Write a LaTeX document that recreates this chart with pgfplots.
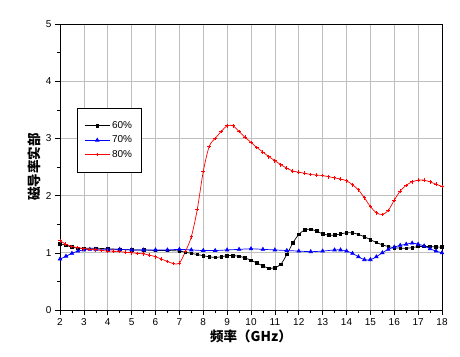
\documentclass[border=0pt]{standalone}
\usepackage{fontspec}
\setmainfont{Liberation Sans}
\newfontfamily\cjk{Noto Sans CJK SC}
\usepackage{pgfplots}
\pgfplotsset{compat=1.18}
\usepackage{pgfplotstable}
\pgfplotstableread{
x y
2.00 1.16
2.25 1.13
2.50 1.10
2.75 1.08
3.00 1.08
3.50 1.08
4.00 1.07
4.50 1.06
5.00 1.05
5.50 1.05
6.00 1.04
6.50 1.04
7.00 1.03
7.25 1.01
7.50 0.99
7.75 0.97
8.00 0.95
8.25 0.93
8.50 0.92
8.75 0.93
9.00 0.95
9.25 0.95
9.50 0.94
9.75 0.91
10.00 0.87
10.25 0.82
10.50 0.77
10.75 0.73
11.00 0.74
11.25 0.80
11.50 0.97
11.75 1.17
12.00 1.32
12.25 1.40
12.50 1.41
12.75 1.38
13.00 1.33
13.25 1.31
13.50 1.31
13.75 1.33
14.00 1.35
14.25 1.35
14.50 1.32
14.75 1.28
15.00 1.23
15.25 1.18
15.50 1.14
15.75 1.11
16.00 1.09
16.25 1.08
16.50 1.08
16.75 1.09
17.00 1.11
17.25 1.11
17.50 1.11
17.75 1.10
18.00 1.10
}\sixty
\pgfplotstableread{
x y
2.00 0.89
2.25 0.94
2.50 0.99
2.75 1.03
3.00 1.05
3.25 1.06
3.50 1.06
4.00 1.06
4.50 1.06
5.00 1.05
5.50 1.05
6.00 1.05
6.50 1.05
7.00 1.06
7.50 1.05
8.00 1.04
8.50 1.04
9.00 1.05
9.50 1.06
10.00 1.07
10.50 1.06
11.00 1.05
11.50 1.04
12.00 1.03
12.50 1.02
13.00 1.03
13.50 1.05
13.75 1.05
14.00 1.03
14.25 0.99
14.50 0.93
14.75 0.88
15.00 0.88
15.25 0.93
15.50 1.00
15.75 1.06
16.00 1.10
16.25 1.13
16.50 1.15
16.75 1.17
17.00 1.15
17.25 1.12
17.50 1.07
17.75 1.03
18.00 1.00
}\seventy
\pgfplotstableread{
x y
2.00 1.21
2.25 1.15
2.50 1.11
2.75 1.09
3.00 1.07
3.25 1.06
3.50 1.05
3.75 1.04
4.00 1.03
4.25 1.03
4.50 1.02
4.75 1.01
5.00 1.00
5.25 0.99
5.50 0.98
5.75 0.96
6.00 0.93
6.25 0.89
6.50 0.85
6.75 0.81
7.00 0.82
7.25 1.02
7.50 1.28
7.75 1.76
8.00 2.42
8.25 2.86
8.50 3.00
8.75 3.12
9.00 3.22
9.25 3.22
9.50 3.12
9.75 3.02
10.00 2.93
10.25 2.84
10.50 2.76
10.75 2.68
11.00 2.61
11.25 2.54
11.50 2.48
11.75 2.43
12.00 2.41
12.25 2.39
12.50 2.37
12.75 2.36
13.00 2.35
13.25 2.33
13.50 2.31
13.75 2.29
14.00 2.26
14.25 2.19
14.50 2.10
14.75 1.96
15.00 1.81
15.25 1.70
15.50 1.67
15.75 1.74
16.00 1.92
16.25 2.08
16.50 2.18
16.75 2.24
17.00 2.27
17.25 2.27
17.50 2.24
17.75 2.20
18.00 2.16
}\eighty
\begin{document}
\begin{tikzpicture}
\begin{axis}[
  name=ax,
  scale only axis,
  width=382pt, height=286pt,
  xmin=2, xmax=18, ymin=0, ymax=5,
  xtick={2,...,18}, ytick={0,...,5},
  minor x tick num=1, minor y tick num=1,
  tick align=outside,
  major tick length=5pt, minor tick length=3pt,
  tick style={black, line width=0.6pt},
  xtick pos=bottom, ytick pos=left,
  grid=major,
  major grid style={color=black!25, line width=0.7pt},
  axis line style={line width=0.9pt},
  tick label style={font=\fontsize{10}{12}\selectfont},
  /pgf/number format/assume math mode=true,
  xlabel={\cjk\bfseries 频率（GHz）},
  ylabel={\cjk\bfseries 磁导率实部},
  label style={font=\fontsize{13.5}{15}\selectfont},
  xlabel style={yshift=3pt},
  ylabel style={yshift=-2pt},
  legend style={at={(0.0445,0.706)}, anchor=north west, draw=black, line width=0.8pt,
    font=\fontsize{10}{12}\selectfont, row sep=2pt, inner xsep=7pt, inner ysep=11pt},
  legend cell align=left,
  legend image code/.code={\draw[mark repeat=2,mark phase=2] plot coordinates {(0pt,0pt) (12.5pt,0pt) (25pt,0pt)};},
]
\addplot[black, line width=0.7pt, mark=square*, mark size=1.3pt, smooth] table[x=x,y=y] {\sixty};
\addlegendentry{60\%}
\addplot[blue, line width=0.7pt, mark=triangle*, mark size=2pt, smooth] table[x=x,y=y] {\seventy};
\addlegendentry{70\%}
\addplot[red, line width=0.7pt, mark=+, mark size=1.8pt, mark options={line width=1pt}, smooth] table[x=x,y=y] {\eighty};
\addlegendentry{80\%}
\end{axis}
\pgfresetboundingbox
\path[use as bounding box] ([xshift=-60pt,yshift=-46pt]ax.south west) rectangle ([xshift=18pt,yshift=24pt]ax.north east);
\end{tikzpicture}
\end{document}
